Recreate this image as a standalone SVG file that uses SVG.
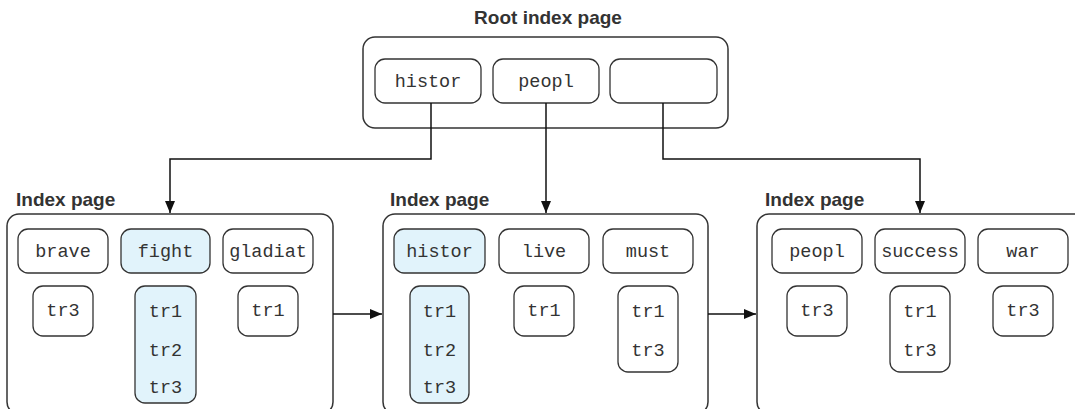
<svg xmlns="http://www.w3.org/2000/svg" width="1075" height="409" viewBox="0 0 1075 409">
<style>
.page{fill:#fff;stroke:#333;stroke-width:1.5}
.key{fill:#fff;stroke:#333;stroke-width:1.3}
.hl{fill:#e1f3fb}
.t{font-family:"Liberation Mono","Courier New",monospace;font-size:18.5px;fill:#333;text-anchor:middle}
.title{font-family:"Liberation Sans",Arial,sans-serif;font-size:19px;font-weight:bold;fill:#333}
.c{fill:none;stroke:#111;stroke-width:1.5}
</style>
<defs>
<marker id="ah" viewBox="0 0 12 10" refX="12" refY="5" markerWidth="12" markerHeight="10" markerUnits="userSpaceOnUse" orient="auto">
<path d="M0,0 L12,5 L0,10 z" fill="#111"/>
</marker>
</defs>

<g id="root">
<text class="title" x="548" y="24" text-anchor="middle">Root index page</text>
<rect class="page" x="363" y="37" width="365" height="91" rx="12"/>
<rect class="key" x="375" y="59" width="106" height="44" rx="10"/>
<text class="t" x="428" y="87">histor</text>
<rect class="key" x="493" y="59" width="106" height="44" rx="10"/>
<text class="t" x="546" y="87">peopl</text>
<rect class="key" x="610" y="59" width="107" height="44" rx="10"/>
</g>

<g id="page-left">
<text class="title" x="16" y="206">Index page</text>
<rect class="page" x="7" y="214" width="326" height="200" rx="12"/>
<rect class="key" x="18" y="229" width="90" height="44" rx="10"/>
<text class="t" x="63" y="257">brave</text>
<rect class="key hl" x="121" y="229" width="89" height="44" rx="10"/>
<text class="t" x="165.5" y="257">fight</text>
<rect class="key" x="223" y="229" width="90" height="44" rx="10"/>
<text class="t" x="268" y="257">gladiat</text>
<rect class="key" x="33" y="286" width="60" height="50" rx="10"/>
<text class="t" x="63" y="316">tr3</text>
<rect class="key hl" x="135" y="286" width="61" height="117" rx="10"/>
<text class="t" x="165.5" y="317">tr1</text>
<text class="t" x="165.5" y="356">tr2</text>
<text class="t" x="165.5" y="393">tr3</text>
<rect class="key" x="238" y="286" width="60" height="50" rx="10"/>
<text class="t" x="268" y="316">tr1</text>
</g>

<g id="page-middle">
<text class="title" x="390" y="206">Index page</text>
<rect class="page" x="383" y="214" width="325" height="200" rx="12"/>
<rect class="key hl" x="394" y="229" width="91" height="44" rx="10"/>
<text class="t" x="439.5" y="257">histor</text>
<rect class="key" x="499" y="229" width="90" height="44" rx="10"/>
<text class="t" x="544" y="257">live</text>
<rect class="key" x="603" y="229" width="90" height="44" rx="10"/>
<text class="t" x="648" y="257">must</text>
<rect class="key hl" x="410" y="286" width="59" height="117" rx="10"/>
<text class="t" x="439.5" y="317">tr1</text>
<text class="t" x="439.5" y="356">tr2</text>
<text class="t" x="439.5" y="393">tr3</text>
<rect class="key" x="514" y="286" width="60" height="50" rx="10"/>
<text class="t" x="544" y="316">tr1</text>
<rect class="key" x="618" y="286" width="60" height="86" rx="10"/>
<text class="t" x="648" y="317">tr1</text>
<text class="t" x="648" y="356">tr3</text>
</g>

<g id="page-right">
<text class="title" x="765" y="206">Index page</text>
<rect class="page" x="757" y="214" width="340" height="200" rx="12"/>
<rect class="key" x="772" y="229" width="90" height="44" rx="10"/>
<text class="t" x="817" y="257">peopl</text>
<rect class="key" x="875" y="229" width="90" height="44" rx="10"/>
<text class="t" x="920" y="257">success</text>
<rect class="key" x="978" y="229" width="90" height="44" rx="10"/>
<text class="t" x="1023" y="257">war</text>
<rect class="key" x="787" y="286" width="60" height="50" rx="10"/>
<text class="t" x="817" y="316">tr3</text>
<rect class="key" x="890" y="286" width="60" height="86" rx="10"/>
<text class="t" x="920" y="317">tr1</text>
<text class="t" x="920" y="356">tr3</text>
<rect class="key" x="993" y="286" width="60" height="50" rx="10"/>
<text class="t" x="1023" y="316">tr3</text>
</g>

<g id="connectors">
<path class="c" d="M431,103 V159 H170 V213" marker-end="url(#ah)"/>
<path class="c" d="M546,103 V213" marker-end="url(#ah)"/>
<path class="c" d="M663,103 V159 H920 V213" marker-end="url(#ah)"/>
<path class="c" d="M333,314 H382" marker-end="url(#ah)"/>
<path class="c" d="M708,314 H756" marker-end="url(#ah)"/>
</g>
</svg>
